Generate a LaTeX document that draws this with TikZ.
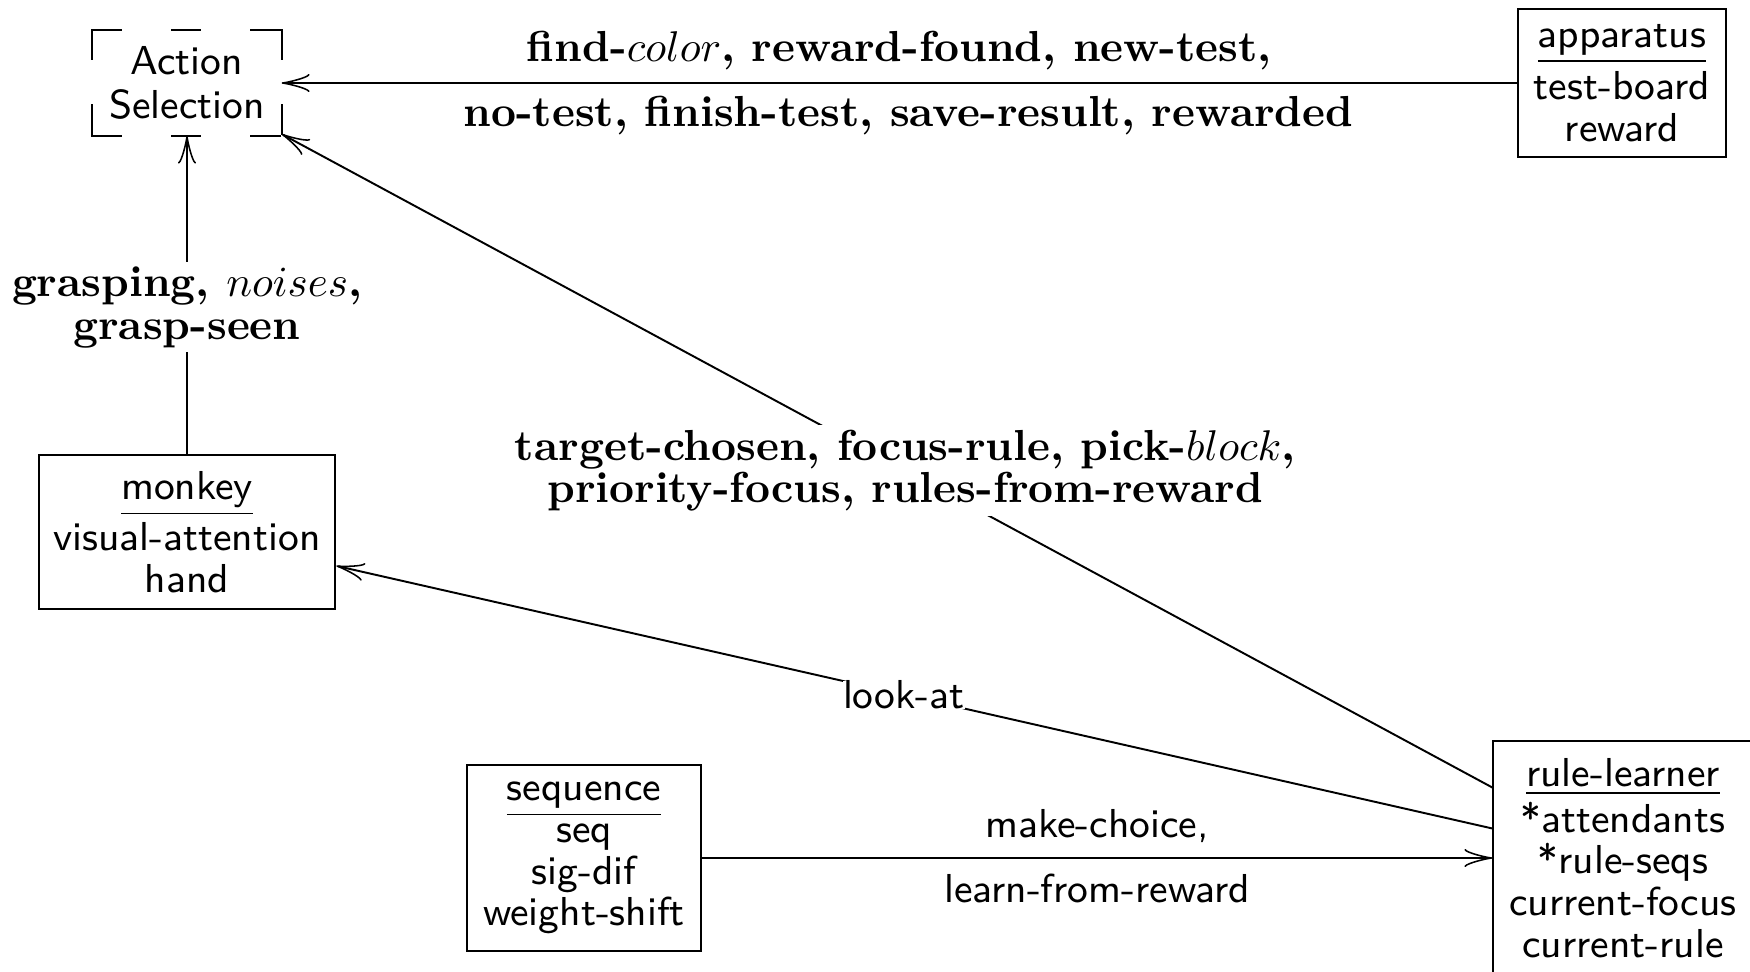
\documentclass[tikz,border=0pt]{standalone}
\usepackage{fontspec}
\usetikzlibrary{arrows.meta}
\tikzset{
  sansfont/.style={font=\sffamily\fontsize{9.4}{9.7}\selectfont},
  box/.style={draw, rectangle, align=center, inner sep=0pt, sansfont},
  plainlbl/.style={sansfont, align=center},
  boldlbl/.style={font=\bfseries\fontsize{10.1}{9.9}\selectfont, align=center},
  arr/.style={-{Classical TikZ Rightarrow[length=6.5pt,width=4.2pt]}},
  hdash/.style={dash pattern=on 6.745pt off 11.665pt, line cap=rect},
  vdash/.style={dash pattern=on 6.745pt off 10.54pt, line cap=rect},
}
\begin{document}
\begin{tikzpicture}[x=0.2326pt, y=-0.2326pt, line width=0.45pt]
\useasboundingbox (0,0) rectangle (1750,971);
\clip (0,0) rectangle (1750,971);

% modules
\node[box, draw=none, font=\sffamily\fontsize{9.4}{10.2}\selectfont,
      minimum width=43.57pt, minimum height=24.03pt] (as) at (187,83) {Action\\Selection};
\node[box, minimum width=48.38pt, minimum height=34.42pt] (app) at (1622,83)
  {\underline{apparatus}\\[0.8pt]test-board\\reward};
\node[box, minimum width=69.01pt, minimum height=35.82pt] (mk) at (187,532)
  {\underline{monkey}\\[0.5pt]visual-attention\\hand};
\node[box, minimum width=54.29pt, minimum height=43.19pt] (sq) at (584,858)
  {\underline{sequence}\\seq\\sig-dif\\weight-shift};
\node[box, minimum width=60.34pt, minimum height=54.57pt] (rl) at (1623,858)
  {\underline{rule-learner}\\[1pt]*attendants\\*rule-seqs\\current-focus\\current-rule};

% dashed outline of the action selection box
\draw[hdash] (as.north west) -- (as.north east);
\draw[hdash] (as.south west) -- (as.south east);
\draw[vdash] (as.north west) -- (as.south west);
\draw[vdash] (as.north east) -- (as.south east);

% connectors
\draw[arr] (app) -- (as)
  node[midway, anchor=base, yshift=5.1pt, boldlbl] (appup) {find-$color$, reward-found, new-test,}
  node[midway, anchor=base, xshift=2.1pt, yshift=-10.2pt, boldlbl] (appdown) {no-test, finish-test, save-result, rewarded};
\draw[arr] (mk) -- node[pos=0.461, fill=white, inner sep=1pt, boldlbl] (mklbl) {grasping, $noises$,\\grasp-seen} (as);
\draw[arr] (rl) -- node[pos=0.485, fill=white, inner sep=1pt, boldlbl] (rllbl) {target-chosen, focus-rule, pick-$block$,\\priority-focus, rules-from-reward} (as);
\draw[arr] (rl) -- node[pos=0.509, fill=white, inner sep=0pt, plainlbl] (lookat) {look-at} (mk);
\draw[arr] (sq) -- (rl)
  node[midway, anchor=base, yshift=4.76pt, plainlbl] (squp) {make-choice,}
  node[midway, anchor=base, yshift=-10.23pt, plainlbl] (sqdown) {learn-from-reward};
\end{tikzpicture}
\end{document}
